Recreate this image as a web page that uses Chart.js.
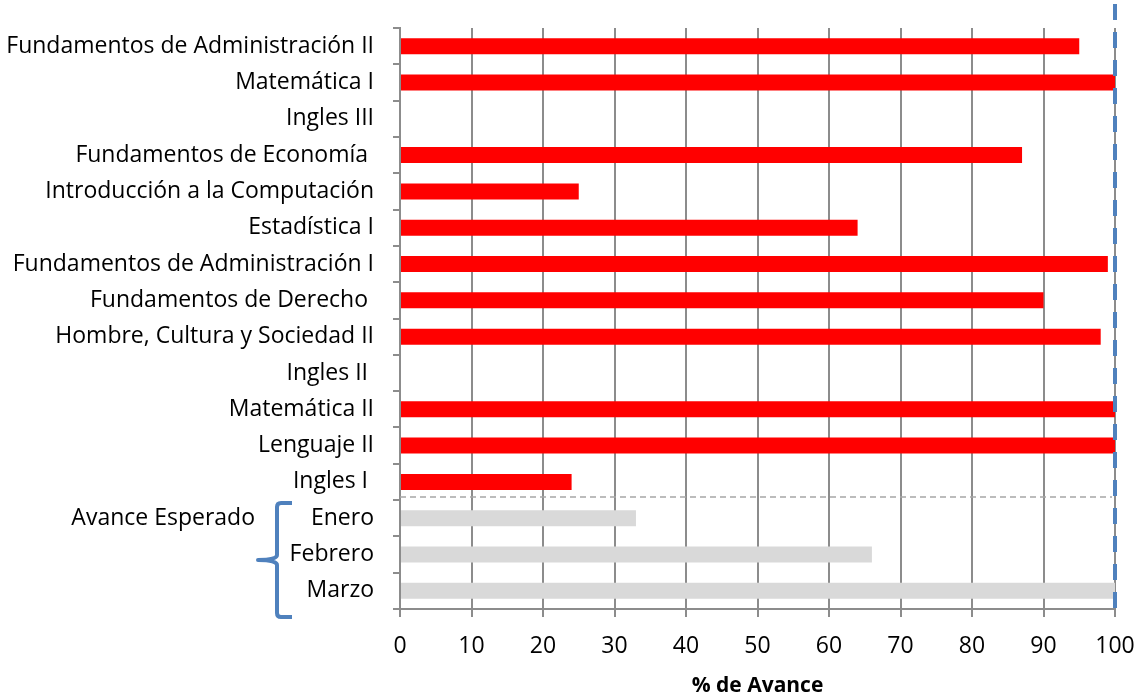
<!DOCTYPE html>
<html lang="es">
<head>
  <meta charset="UTF-8" />
  <title>% de Avance</title>
  <script src="https://cdn.jsdelivr.net/npm/chart.js"></script>
  <style>
    body { margin: 0; background: #fff; }
  </style>
</head>
<body>
  <canvas id="avanceChart" width="1136" height="697"></canvas>

  <script>
    // data
    const materias = [
      'Fundamentos de Administración II',
      'Matemática I',
      'Ingles III',
      'Fundamentos de Economía ',
      'Introducción a la Computación',
      'Estadística I',
      'Fundamentos de Administración I',
      'Fundamentos de Derecho ',
      'Hombre, Cultura y Sociedad II',
      'Ingles II ',
      'Matemática II',
      'Lenguaje II',
      'Ingles I '
    ];
    const avanceMaterias = [95, 100, 0, 87, 25, 64, 99, 90, 98, 0, 100, 100, 24];
    const meses = ['Enero', 'Febrero', 'Marzo'];
    const avanceEsperado = [33, 66, 100];
    const xTicks = [0, 10, 20, 30, 40, 50, 60, 70, 80, 90, 100];
    const metaValor = 100;

    const FONT = '"Open Sans"';
    const labels = materias.concat(meses);
    const values = avanceMaterias.concat(avanceEsperado);
    const colors = labels.map((_, i) => i < materias.length ? '#ff0000' : '#d9d9d9');

    // dashed separator, blue target line, brace + "Avance Esperado"
    const extras = {
      id: 'extras',
      afterDatasetsDraw(chart) {
        const { ctx, chartArea } = chart;
        const x = chart.scales.x, y = chart.scales.y;
        const n = materias.length;
        const sepY = (y.getPixelForValue(n - 1) + y.getPixelForValue(n)) / 2 - 3;

        ctx.save();
        ctx.strokeStyle = '#a6a6a6';
        ctx.lineWidth = 1.5;
        ctx.setLineDash([6, 4]);
        ctx.beginPath();
        ctx.moveTo(chartArea.left, sepY);
        ctx.lineTo(x.getPixelForValue(metaValor) - 3, sepY);
        ctx.stroke();

        const mx = x.getPixelForValue(metaValor);
        ctx.strokeStyle = '#4f81bd';
        ctx.lineWidth = 4;
        ctx.setLineDash([16, 12]);
        ctx.beginPath();
        ctx.moveTo(mx, 4);
        ctx.lineTo(mx, chartArea.bottom);
        ctx.stroke();

        // brace
        const top = sepY + 6, bot = chartArea.bottom + 8, mid = (top + bot) / 2;
        const xv = chartArea.left - 123, xr = chartArea.left - 108, xp = chartArea.left - 142;
        ctx.setLineDash([]);
        ctx.lineWidth = 4;
        ctx.strokeStyle = '#4f81bd';
        ctx.lineJoin = 'round';
        ctx.beginPath();
        ctx.moveTo(xr, top);
        ctx.lineTo(xv + 4, top);
        ctx.quadraticCurveTo(xv, top, xv, top + 4);
        ctx.lineTo(xv, mid - 5);
        ctx.quadraticCurveTo(xv, mid, xp, mid);
        ctx.quadraticCurveTo(xv, mid, xv, mid + 5);
        ctx.lineTo(xv, bot - 4);
        ctx.quadraticCurveTo(xv, bot, xv + 4, bot);
        ctx.lineTo(xr, bot);
        ctx.stroke();

        ctx.fillStyle = '#000';
        ctx.font = '23px ' + FONT;
        ctx.textAlign = 'right';
        ctx.textBaseline = 'middle';
        ctx.fillText('Avance Esperado', chartArea.left - 145, y.getPixelForValue(n));
        ctx.restore();
      }
    };

    new Chart(document.getElementById('avanceChart'), {
      type: 'bar',
      data: {
        labels: labels,
        datasets: [{
          data: values,
          backgroundColor: colors,
          barThickness: 16,
          inflateAmount: 0
        }]
      },
      options: {
        indexAxis: 'y',
        responsive: false,
        animation: false,
        devicePixelRatio: 1,
        layout: { padding: { top: 28, right: 0, left: 0, bottom: 0 } },
        plugins: {
          legend: { display: false },
          tooltip: { enabled: false }
        },
        scales: {
          x: {
            min: 0,
            max: 100,
            afterBuildTicks(scale) { scale.ticks = xTicks.map(v => ({ value: v })); },
            afterFit(scale) {
              scale.height = 88;
              scale.paddingLeft = 0;
              scale.paddingRight = 21;
            },
            grid: { color: '#8c8c8c', lineWidth: 2, tickLength: 8 },
            border: { color: '#8c8c8c', width: 2 },
            ticks: { color: '#000', font: { family: FONT, size: 23 }, padding: 16, maxRotation: 0 },
            title: {
              display: true,
              text: '% de Avance',
              color: '#000',
              font: { family: FONT, size: 21, weight: 'bold' },
              padding: { top: 4, bottom: -2 }
            }
          },
          y: {
            z: 1,
            afterFit(scale) {
              scale.width = 400;
              scale.paddingTop = 0;
              scale.paddingBottom = 0;
            },
            grid: { drawOnChartArea: false, color: '#8c8c8c', lineWidth: 2, tickLength: 7 },
            border: { color: '#8c8c8c', width: 2 },
            ticks: { color: '#000', font: { family: FONT, size: 23 }, padding: 19, autoSkip: false }
          }
        }
      },
      plugins: [extras]
    });
  </script>
</body>
</html>
